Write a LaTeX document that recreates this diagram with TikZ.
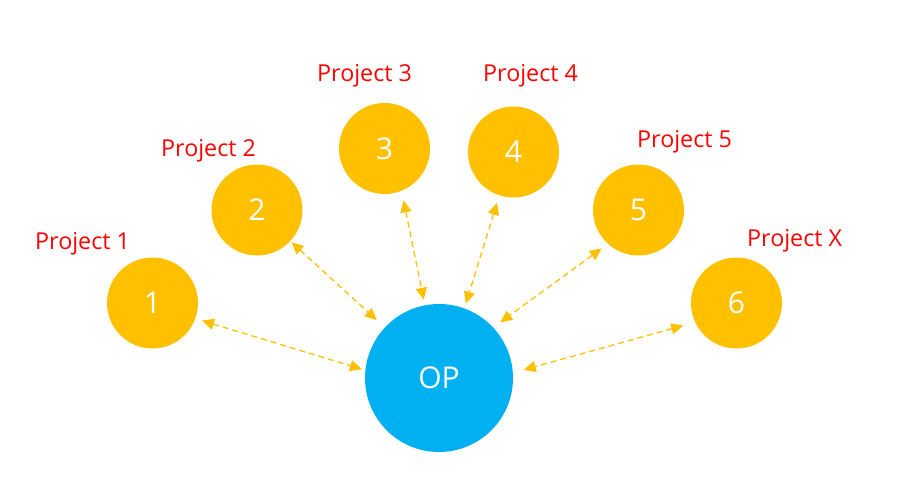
\documentclass[tikz,border=0pt]{standalone}
\usepackage{fontspec}
\setmainfont{Open Sans}
\usetikzlibrary{arrows.meta}
\definecolor{gold}{HTML}{FFC000}
\definecolor{sky}{HTML}{00B0F0}
\definecolor{lblred}{HTML}{FF0000}
\tikzset{
  proj/.style={circle,fill=gold,draw=none,minimum size=91pt,inner sep=0pt,outer sep=0pt,text=white,font=\fontsize{30}{34}\selectfont},
  hub/.style={circle,fill=sky,draw=none,minimum size=148pt,inner sep=0pt,outer sep=0pt,text=white,font=\fontsize{30}{34}\selectfont},
  lbl/.style={anchor=base west,inner sep=0pt,text=lblred,font=\fontsize{23.3}{28}\selectfont},
  link/.style={draw=gold,line width=1.3pt,dash pattern=on 6pt off 4pt,
    {Triangle[length=12pt,width=11pt]}-{Triangle[length=12pt,width=11pt]}}
}
\begin{document}
\begin{tikzpicture}[x=1pt,y=-1pt]
\useasboundingbox (0,0) rectangle (917,484);
\node[hub] (op) at (439,378) {OP};
\node[proj] (n1) at (152.5,303) {1};
\node[proj] (n2) at (257,210) {2};
\node[proj] (n3) at (384.5,148.5) {3};
\node[proj] (n4) at (513.5,152) {4};
\node[proj] (n5) at (638.5,210) {5};
\node[proj] (n6) at (736.5,303) {6};
\node[lbl] (l1) at (35,249) {Project 1};
\node[lbl] (l2) at (161,156.7) {Project 2};
\node[lbl] (l3) at (317,81.7) {Project 3};
\node[lbl] (l4) at (483,82) {Project 4};
\node[lbl] (l5) at (637,147) {Project 5};
\node[lbl] (l6) at (747,246.7) {Project X};
\draw[link,shorten <=7pt,shorten >=3.6pt] (n1.-20.8) -- (op.174.8);
\draw[link,shorten <=1.7pt,shorten >=11pt] (n2.-43.9) -- (op.137.9);
\draw[link,shorten <=9.9pt,shorten >=5.7pt] (n3.-68.3) -- (op.101.8);
\draw[link,shorten <=7.9pt,shorten >=5.1pt] (n4.-108.3) -- (op.70.8);
\draw[link,shorten <=7.9pt,shorten >=8.8pt] (n5.-132.7) -- (op.43.5);
\draw[link,shorten <=12.4pt,shorten >=11.3pt] (n6.-155.2) -- (op.4.9);
\end{tikzpicture}
\end{document}
